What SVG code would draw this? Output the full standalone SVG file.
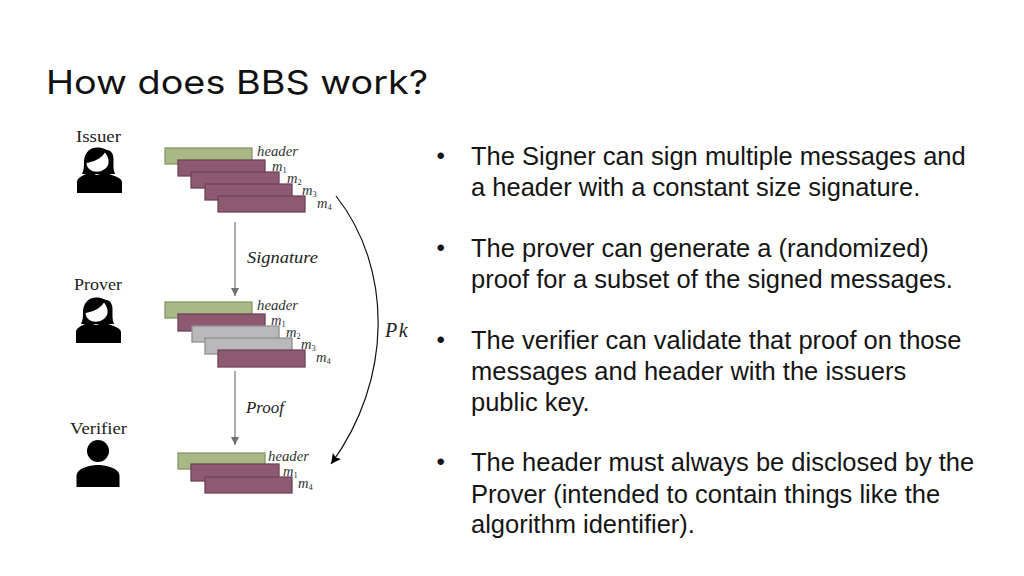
<svg xmlns="http://www.w3.org/2000/svg" width="1024" height="576" viewBox="0 0 1024 576">
<style>
.title{font-family:Inter,"Open Sans",sans-serif;font-size:33px;fill:#111}
.body{font-family:"Liberation Sans",Arial,sans-serif;font-size:25.5px;fill:#151515}
.dot{font-family:"Liberation Sans",Arial,sans-serif;font-size:24px;fill:#151515}
.role{font-family:"Liberation Serif",serif;font-size:17px;fill:#222}
.math{font-family:"Liberation Serif",serif;font-style:italic;font-size:14.5px;fill:#333}
.hd{font-size:15px}
.sub{font-size:8.5px;font-style:normal}
.lab{font-size:17px;fill:#222}
.big{font-size:20px;fill:#222}
.g{fill:#a9b985;stroke:#84966a;stroke-width:1.3}
.m{fill:#8d5a72;stroke:#6f4459;stroke-width:1.3}
.x{fill:#b9b9bb;stroke:#8f8f91;stroke-width:1.3}
.ar{fill:none;stroke:#808080;stroke-width:1.3}
.pk{fill:none;stroke:#111;stroke-width:1.2}
</style>
<defs>
<marker id="grey" markerWidth="10" markerHeight="10" refX="8" refY="4" orient="auto" markerUnits="userSpaceOnUse"><path d="M0 0L8 4L0 8Z" fill="#707070"/></marker>
<marker id="blk" markerWidth="12" markerHeight="12" refX="10" refY="5" orient="auto" markerUnits="userSpaceOnUse"><path d="M0 0L10 5L0 10L2 5Z" fill="#000"/></marker>
<g id="woman">
<path d="M-15-6C-15-15-9-21-1-20.500C3-20.500 6-19 8-18C12-18 14.500-14 14.500-9C14.500-3 14 2 16 6L-17 6C-15 2-15-2-15-6Z" fill="#000"/>
<path d="M-12.500-5C-6-6 2-9 6-15.500C8.500-12 10-9 9.500-5C9 0 3 3.800-2 3.800C-8 3.800-12.500 0-12.500-5Z" fill="#fff"/>
<path d="M-22 25L-22 14C-22 9-14 7-10 4.500L-2 7L6 4.500C11 7 23 9 23 14L23 25Z" fill="#000"/>
</g>
<g id="person">
<circle cx="0" cy="-11" r="11" fill="#000"/>
<path d="M-21.500 25L-21.500 14C-21.500 7-10 3 0 3C10 3 21.500 7 21.500 14L21.500 25Z" fill="#000"/>
</g>
</defs>
<text id="title" class="title" x="46" y="94" textLength="382" lengthAdjust="spacingAndGlyphs">How does BBS work?</text>

<g id="issuer"><text class="role" x="76" y="142" textLength="45" lengthAdjust="spacingAndGlyphs">Issuer</text><use href="#woman" x="99" y="168"/></g>
<g id="prover"><text class="role" x="74" y="290" textLength="48" lengthAdjust="spacingAndGlyphs">Prover</text><use href="#woman" x="98" y="318"/></g>
<g id="verifier"><text class="role" x="70" y="434" textLength="57" lengthAdjust="spacingAndGlyphs">Verifier</text><use href="#person" x="98" y="462"/></g>

<g id="stack-issuer">
<rect class="g" x="165" y="148" width="87" height="16"/><rect class="m" x="178" y="160" width="87" height="16"/><rect class="m" x="191" y="172" width="88" height="16"/><rect class="m" x="205" y="184" width="87" height="16"/><rect class="m" x="218" y="196" width="87" height="16"/>
<text class="math hd" x="257" y="156" textLength="41" lengthAdjust="spacingAndGlyphs">header</text>
<text class="math" x="272" y="170.500">m<tspan class="sub" dy="2">1</tspan></text>
<text class="math" x="287" y="182.500">m<tspan class="sub" dy="2">2</tspan></text>
<text class="math" x="302" y="195">m<tspan class="sub" dy="2">3</tspan></text>
<text class="math" x="317" y="208">m<tspan class="sub" dy="2">4</tspan></text>
</g>
<g id="stack-prover">
<rect class="g" x="165" y="302" width="87" height="16"/><rect class="m" x="178" y="314" width="87" height="17"/><rect class="x" x="192" y="326" width="87" height="16"/><rect class="x" x="205" y="338" width="87" height="16"/><rect class="m" x="218" y="350" width="87" height="17"/>
<text class="math hd" x="257" y="310" textLength="41" lengthAdjust="spacingAndGlyphs">header</text>
<text class="math" x="271" y="324.500">m<tspan class="sub" dy="2">1</tspan></text>
<text class="math" x="286" y="336.500">m<tspan class="sub" dy="2">2</tspan></text>
<text class="math" x="301" y="349">m<tspan class="sub" dy="2">3</tspan></text>
<text class="math" x="316" y="362">m<tspan class="sub" dy="2">4</tspan></text>
</g>
<g id="stack-verifier">
<rect class="g" x="178" y="453" width="87" height="16"/><rect class="m" x="191" y="464" width="88" height="17"/><rect class="m" x="205" y="477" width="87" height="16"/>
<text class="math hd" x="268" y="461" textLength="41" lengthAdjust="spacingAndGlyphs">header</text>
<text class="math" x="283" y="475.500">m<tspan class="sub" dy="2">1</tspan></text>
<text class="math" x="298" y="488">m<tspan class="sub" dy="2">4</tspan></text>
</g>

<g id="connectors">
<path class="ar" d="M235 222V296" marker-end="url(#grey)"/>
<path class="ar" d="M235 371V445" marker-end="url(#grey)"/>
<path class="pk" d="M336 196C393 268 393 380 331 464" marker-end="url(#blk)"/>
</g>
<g id="edge-labels">
<text class="math lab" x="247" y="263" textLength="71" lengthAdjust="spacingAndGlyphs">Signature</text>
<text class="math lab" x="246" y="413" textLength="38" lengthAdjust="spacingAndGlyphs">Proof</text>
<text class="math big" x="385" y="337" letter-spacing="1.500">Pk</text>
</g>

<g id="bullets">
<text class="dot" x="436.500" y="164">•</text>
<text class="body" x="471" y="165">The Signer can sign multiple messages and</text>
<text class="body" x="471" y="196">a header with a constant size signature.</text>
<text class="dot" x="436.500" y="256">•</text>
<text class="body" x="471" y="257">The prover can generate a (randomized)</text>
<text class="body" x="471" y="288">proof for a subset of the signed messages.</text>
<text class="dot" x="436.500" y="348">•</text>
<text class="body" x="471" y="349">The verifier can validate that proof on those</text>
<text class="body" x="471" y="380">messages and header with the issuers</text>
<text class="body" x="471" y="411">public key.</text>
<text class="dot" x="436.500" y="470">•</text>
<text class="body" x="471" y="471">The header must always be disclosed by the</text>
<text class="body" x="471" y="503">Prover (intended to contain things like the</text>
<text class="body" x="471" y="533">algorithm identifier).</text>
</g>
</svg>
